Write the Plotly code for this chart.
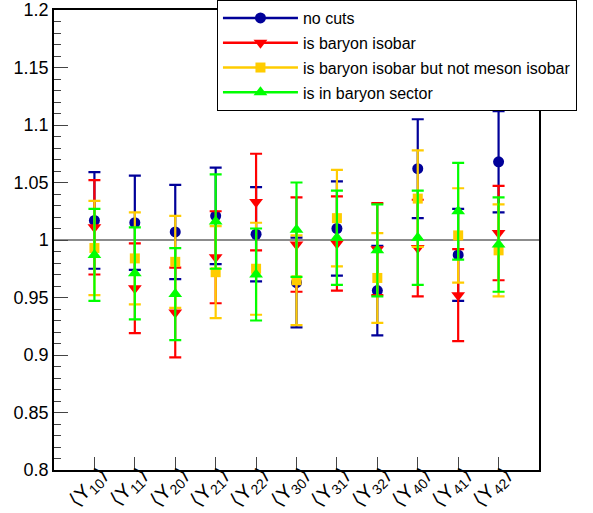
import plotly.graph_objects as go

categories = ["⟨Y<sub>10</sub>⟩", "⟨Y<sub>11</sub>⟩", "⟨Y<sub>20</sub>⟩", "⟨Y<sub>21</sub>⟩",
              "⟨Y<sub>22</sub>⟩", "⟨Y<sub>30</sub>⟩", "⟨Y<sub>31</sub>⟩", "⟨Y<sub>32</sub>⟩",
              "⟨Y<sub>40</sub>⟩", "⟨Y<sub>41</sub>⟩", "⟨Y<sub>42</sub>⟩"]

no_cuts = [1.017, 1.015, 1.007, 1.021, 1.005, 0.963, 1.010, 0.956, 1.062, 0.987, 1.068]
no_cuts_err = [0.042, 0.041, 0.041, 0.042, 0.041, 0.039, 0.041, 0.039, 0.043, 0.040, 0.044]

baryon_isobar = [1.011, 0.958, 0.937, 0.985, 1.033, 0.996, 0.997, 0.992, 0.993, 0.952, 1.006]
baryon_isobar_err = [0.041, 0.039, 0.039, 0.040, 0.042, 0.041, 0.041, 0.040, 0.042, 0.040, 0.041]

baryon_not_meson = [0.993, 0.984, 0.981, 0.972, 0.975, 0.965, 1.019, 0.967, 1.036, 1.004, 0.991]
baryon_not_meson_err = [0.041, 0.040, 0.040, 0.040, 0.040, 0.039, 0.042, 0.039, 0.042, 0.041, 0.040]

baryon_sector = [0.987, 0.971, 0.953, 1.016, 0.970, 1.009, 1.002, 0.991, 1.002, 1.025, 0.996]
baryon_sector_err = [0.040, 0.040, 0.040, 0.041, 0.040, 0.041, 0.041, 0.040, 0.041, 0.042, 0.041]

ytick_vals = [0.8, 0.85, 0.9, 0.95, 1.0, 1.05, 1.1, 1.15, 1.2]
ytick_text = ["0.8", "0.85", "0.9", "0.95", "1", "1.05", "1.1", "1.15", "1.2"]

series = [
    ("no cuts", no_cuts, no_cuts_err, "#000099", "circle", 11),
    ("is baryon isobar", baryon_isobar, baryon_isobar_err, "#ff0000", "triangle-down", 12),
    ("is baryon isobar but not meson isobar", baryon_not_meson, baryon_not_meson_err, "#ffcc00", "square", 10),
    ("is in baryon sector", baryon_sector, baryon_sector_err, "#00ff00", "triangle-up", 12),
]

fig = go.Figure()
for name, vals, errs, col, sym, sz in series:
    fig.add_trace(go.Scatter(
        x=categories, y=vals, mode="markers", name=name, showlegend=False,
        marker=dict(color=col, symbol=sym, size=sz, line=dict(width=0)),
        error_y=dict(type="data", array=errs, visible=True, color=col, thickness=2.2, width=6),
    ))
for name, vals, errs, col, sym, sz in series:
    fig.add_trace(go.Scatter(
        x=[None], y=[None], mode="lines+markers", name=name, legendgroup=name,
        line=dict(color=col, width=2.5),
        marker=dict(color=col, symbol=sym, size=sz),
    ))

fig.add_shape(type="line", xref="paper", x0=0, x1=1, yref="y", y0=1, y1=1,
              line=dict(color="#666666", width=1.5), layer="below")

fig.update_layout(
    width=593, height=513,
    margin=dict(l=54, r=54, t=10, b=43, autoexpand=False),
    paper_bgcolor="white", plot_bgcolor="white",
    font=dict(family="Liberation Sans, Arial, sans-serif", color="black"),
    showlegend=True,
    legend=dict(
        x=0.336, y=1.0217, xanchor="left", yanchor="top",
        bgcolor="white", bordercolor="black", borderwidth=1,
        font=dict(size=16, color="black"),
        traceorder="grouped", tracegroupgap=1, itemwidth=75,
    ),
    xaxis=dict(
        range=[-1, 11], tickangle=-45, tickfont=dict(size=20),
        ticks="inside", ticklen=13, tickcolor="#444", tickwidth=1,
        ticklabelstandoff=-17, ticklabelshift=7, ticklabeloverflow="allow",
        showline=True, linecolor="black", linewidth=1.5, mirror=True,
        showgrid=False, zeroline=False, automargin=False,
    ),
    yaxis=dict(
        range=[0.8, 1.2], tickvals=ytick_vals, ticktext=ytick_text,
        tickfont=dict(size=18), ticklabeloverflow="allow",
        ticks="inside", ticklen=14, tickcolor="#444", tickwidth=1,
        minor=dict(dtick=0.01, ticks="inside", ticklen=7, tickcolor="#444", tickwidth=1, showgrid=False),
        showline=True, linecolor="black", linewidth=1.5, mirror=True,
        showgrid=False, zeroline=False, automargin=False,
    ),
)

fig.write_html("out.html", config={"displayModeBar": False},
               post_script="document.body.style.margin='0px';document.body.style.overflow='hidden';")
